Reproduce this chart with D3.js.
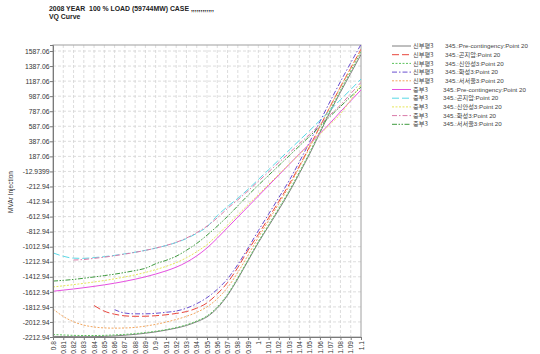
<!DOCTYPE html>
<html>
<head>
<meta charset="utf-8">
<script src="https://cdn.jsdelivr.net/npm/d3@7"></script>
<style>
  html, body { margin: 0; padding: 0; background: #fff; }
  svg { display: block; font-family: "Liberation Sans", Arial, sans-serif; }
</style>
</head>
<body>
<svg id="chart" width="540" height="354"></svg>
<script>
// Bus voltage (pu) sample points
const voltages = [0.80,0.81,0.82,0.83,0.84,0.85,0.86,0.87,0.88,0.89,0.90,0.91,0.92,0.93,0.94,0.95,
  0.96,0.97,0.98,0.99,1.00,1.01,1.02,1.03,1.04,1.05,1.06,1.07,1.08,1.09,1.10];

// 신부평3 bus, one curve per contingency (MVAr), null = no solution
const sbpPre    = [-2205,-2207,-2209,-2210,-2209,-2205,-2198,-2189,-2178,-2163,-2145,-2122,-2095,-2060,-2010,-1945,
  -1830,-1660,-1440,-1200,-960,-740,-520,-290,-40,220,500,780,1040,1290,1540];
const sbpGonjiam = [null,null,null,null,-1795,-1870,-1910,-1932,-1938,-1937,-1930,-1918,-1900,-1875,-1830,-1760,
  -1640,-1490,-1290,-1060,-850,-630,-410,-185,60,320,585,850,1110,1360,1610];
const sbpSinanseong = [-2180,-2186,-2191,-2193,-2193,-2191,-2185,-2178,-2168,-2154,-2137,-2115,-2087,-2051,-2001,-1933,
  -1815,-1645,-1425,-1185,-945,-722,-500,-270,-20,240,520,800,1065,1320,1575];
const sbpHwaseong = [null,null,null,null,null,null,-1850,-1895,-1905,-1905,-1898,-1885,-1868,-1830,-1770,-1690,
  -1580,-1440,-1250,-1030,-800,-580,-360,-135,115,380,650,920,1180,1430,1675];
const sbpSeoseoul = [-1840,-1940,-2010,-2055,-2080,-2092,-2095,-2093,-2085,-2068,-2045,-2015,-1980,-1938,-1885,-1812,
  -1705,-1555,-1355,-1125,-890,-665,-440,-210,45,305,580,850,1110,1360,1600];

// 중부3 bus
const jbPre = [-1605,-1590,-1575,-1558,-1540,-1520,-1498,-1473,-1445,-1413,-1377,-1335,-1285,-1220,-1135,-1030,
  -900,-760,-620,-480,-340,-200,-60,80,220,355,490,630,780,925,1070];
const jbGonjiam = [-1095,-1140,-1165,-1168,-1158,-1145,-1128,-1108,-1086,-1061,-1032,-998,-958,-905,-835,-750,
  -600,-480,-370,-250,-120,10,140,270,400,530,665,800,940,1075,1215];
const jbSinanseong = [-1548,-1533,-1517,-1500,-1482,-1462,-1440,-1415,-1387,-1355,-1318,-1275,-1225,-1160,-1080,-985,
  -860,-725,-590,-455,-320,-185,-50,85,215,345,480,615,750,940,1140];
const jbHwaseong = [null,null,-1190,-1183,-1168,-1152,-1133,-1111,-1088,-1062,-1032,-997,-955,-898,-826,-740,
  -630,-505,-390,-270,-145,-20,105,230,355,480,610,740,870,1020,1170];
const jbSeoseoul = [-1470,-1460,-1448,-1432,-1415,-1397,-1378,-1355,-1330,-1300,-1240,-1195,-1140,-1060,-970,-860,
  -740,-610,-470,-330,-195,-65,65,195,325,455,585,720,850,980,1110];

// Axis tick values and their printed labels
const yTickValues = d3.range(20).map(k => -2212.94 + 200 * k);
const yTickLabels = ["-2212.94","-2012.94","-1812.94","-1612.94","-1412.94","-1212.94","-1012.94","-812.94",
  "-612.94","-412.94","-212.94","-12.9399","187.06","387.06","587.06","787.06","987.06","1187.06","1387.06","1587.06"];
const xTickLabels = ["0.8","0.81","0.82","0.83","0.84","0.85","0.86","0.87","0.88","0.89","0.9","0.91","0.92",
  "0.93","0.94","0.95","0.96","0.97","0.98","0.99","1","1.01","1.02","1.03","1.04","1.05","1.06","1.07","1.08","1.09","1.1"];

const busNames = ["신부평3","신부평3","신부평3","신부평3","신부평3","중부3","중부3","중부3","중부3","중부3"];
const caseNames = ["345.:Pre-contingency:Point 20","345.:곤지암:Point 20","345.:신안성3:Point 20","345.:화성3:Point 20",
  "345.:서서울3:Point 20","345.:Pre-contingency:Point 20","345.:곤지암:Point 20","345.:신안성3:Point 20",
  "345.:화성3:Point 20","345.:서서울3:Point 20"];
const seriesValues = [sbpPre, sbpGonjiam, sbpSinanseong, sbpHwaseong, sbpSeoseoul,
  jbPre, jbGonjiam, jbSinanseong, jbHwaseong, jbSeoseoul];
const seriesColors = ["#7f7f7f","#e8453c","#5cc25c","#6a4fd0","#f2a65e",
  "#e650e0","#59d8e6","#e6e65a","#d97aa8","#3f9a3f"];
const seriesDashes = ["none","7,3","2,1.5","5,2,1.5,2","2,1.5",
  "none","7,3","2,1.5","5,2,1.5,2","5,1.5,1.5,1.5,1.5,1.5"];

const svg = d3.select("#chart");
const m = { left: 53, right: 361, top: 45, bottom: 337 };

const x = d3.scaleLinear().domain([0.8, 1.1]).range([m.left, m.right]);
const y = d3.scaleLinear().domain([-2212.94, 1667]).range([m.bottom, m.top]);

// Titles
svg.append("text").attr("x", 49).attr("y", 11).attr("font-size", 6.9).attr("font-weight", "bold")
  .attr("fill", "#222").style("white-space", "pre").text("2008 YEAR  100 % LOAD (59744MW) CASE ,,,,,,,,,,,,");
svg.append("text").attr("x", 49).attr("y", 18.5).attr("font-size", 6.9).attr("font-weight", "bold")
  .attr("fill", "#222").text("VQ Curve");

// Grid
const grid = svg.append("g").attr("stroke", "#d4d4d4").attr("stroke-width", 0.8).attr("stroke-dasharray", "3,2");
grid.selectAll("line.v").data(voltages.slice(1, -1)).join("line")
  .attr("x1", d => x(d)).attr("x2", d => x(d)).attr("y1", m.top).attr("y2", m.bottom);
grid.selectAll("line.h").data(yTickValues.slice(1)).join("line").attr("class", "h")
  .attr("x1", m.left).attr("x2", m.right).attr("y1", d => y(d)).attr("y2", d => y(d));

// Frame
svg.append("rect").attr("x", m.left).attr("y", m.top).attr("width", m.right - m.left).attr("height", m.bottom - m.top)
  .attr("fill", "none").attr("stroke", "#a0a0a0").attr("stroke-width", 1);

// Curves
const clipId = "plotclip";
svg.append("clipPath").attr("id", clipId).append("rect")
  .attr("x", m.left).attr("y", m.top).attr("width", m.right - m.left).attr("height", m.bottom - m.top + 1);
const line = d3.line().defined(d => d[1] !== null).x(d => x(d[0])).y(d => y(d[1])).curve(d3.curveMonotoneX);
const curves = svg.append("g").attr("clip-path", `url(#${clipId})`);
seriesValues.forEach((vals, i) => {
  curves.append("path")
    .attr("d", line(voltages.map((v, j) => [v, vals[j]])))
    .attr("fill", "none").attr("stroke", seriesColors[i]).attr("stroke-width", 1)
    .attr("stroke-dasharray", seriesDashes[i]);
});

// Y axis
const yAxis = svg.append("g").attr("transform", `translate(${m.left},0)`)
  .call(d3.axisLeft(y).tickValues(yTickValues).tickSize(3).tickFormat((d, i) => yTickLabels[i]));
yAxis.select(".domain").attr("stroke", "#7a7a7a");
yAxis.selectAll(".tick line").attr("stroke", "#7a7a7a");
yAxis.selectAll("text").attr("font-size", 6.8).attr("fill", "#333").attr("x", -3.5);

// X axis
const xAxis = svg.append("g").attr("transform", `translate(0,${m.bottom})`)
  .call(d3.axisBottom(x).tickValues(voltages).tickSize(3).tickFormat((d, i) => xTickLabels[i]));
xAxis.select(".domain").attr("stroke", "#7a7a7a");
xAxis.selectAll(".tick line").attr("stroke", "#7a7a7a");
xAxis.selectAll("text").attr("font-size", 6.6).attr("fill", "#333")
  .attr("transform", "rotate(-90)").attr("x", -4).attr("y", 0).attr("dy", "0.32em")
  .attr("text-anchor", "end");

// Y axis title
svg.append("text").attr("transform", "translate(13,192) rotate(-90)").attr("text-anchor", "middle")
  .attr("font-size", 6.5).attr("fill", "#333").text("MVAr Injection");

// Legend
const legend = svg.append("g");
busNames.forEach((b, i) => {
  const ly = 46 + i * 8.7;
  legend.append("line").attr("x1", 392).attr("x2", 411).attr("y1", ly).attr("y2", ly)
    .attr("stroke", seriesColors[i]).attr("stroke-width", 1).attr("stroke-dasharray", seriesDashes[i]);
  legend.append("text").attr("x", 413).attr("y", ly).attr("dy", "0.35em").attr("font-size", 6.2)
    .attr("fill", "#444").attr("font-family", "'Noto Sans CJK KR', sans-serif").text(b);
  legend.append("text").attr("x", i < 5 ? 445 : 443).attr("y", ly).attr("dy", "0.35em").attr("font-size", 6.2)
    .attr("fill", "#444").attr("font-family", "'Liberation Sans', 'Noto Sans CJK KR', sans-serif").text(caseNames[i]);
});
</script>
</body>
</html>
